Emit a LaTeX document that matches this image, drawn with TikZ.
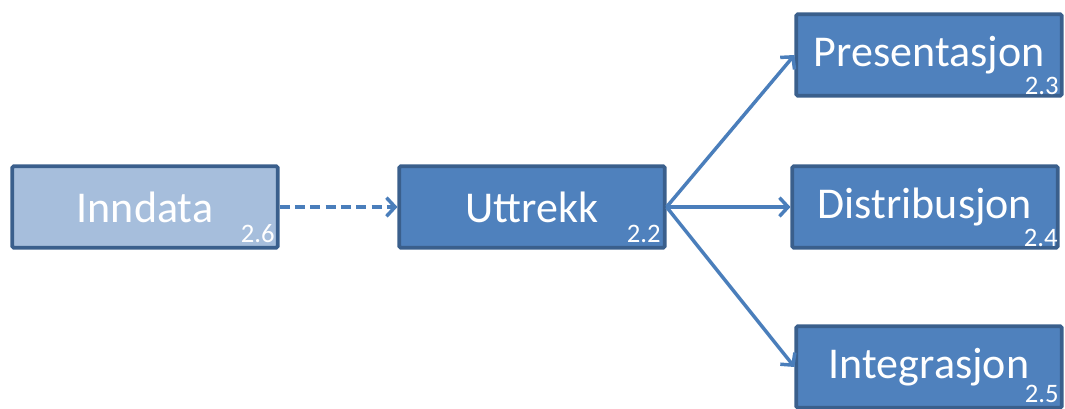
\documentclass[tikz,border=0pt]{standalone}
\usepackage{fontspec}
\setmainfont{Carlito}
\usepackage{xcolor}
\usepackage{tikz}
\usetikzlibrary{arrows.meta,positioning}

\definecolor{boxfill}{HTML}{4F81BD}
\definecolor{boxline}{HTML}{3A5F8C}
\definecolor{lightfill}{HTML}{A6BEDC}
\definecolor{arrowblue}{HTML}{4A7EBB}

\tikzset{
    processbox/.style={draw=boxline, fill=boxfill, line width=2.8pt, rounded corners=1pt,
        minimum width=199pt, minimum height=61pt, text=white, inner sep=0pt,
        font=\fontsize{33}{40}\selectfont},
    inputbox/.style={processbox, fill=lightfill},
    numlabel/.style={text=white, inner sep=0pt, anchor=base east,
        font=\fontsize{20}{24}\selectfont},
    flow/.style={draw=arrowblue, line width=2.6pt,
        -{Straight Barb[length=6.5pt, width=14pt, line width=2.6pt]}},
}

\begin{document}
\begin{tikzpicture}[x=0.75pt, y=-0.75pt]
    \useasboundingbox (0,0) rectangle (1065,408);

    % Boxes
    \node[inputbox]   (inndata)      at (145,207) {Inndata};
    \node[processbox] (uttrekk)      at (532,207) {Uttrekk};
    \node[processbox] (presentasjon) at (929,55)  {Presentasjon};
    \node[processbox] (distribusjon) at (925,207) {Distribusjon};
    \node[processbox] (integrasjon)  at (929,367) {Integrasjon};

    % Section numbers
    \node[numlabel] (n26) at (275,242) {2.6};
    \node[numlabel] (n22) at (661,242) {2.2};
    \node[numlabel] (n23) at (1059,94) {2.3};
    \node[numlabel] (n24) at (1058,246) {2.4};
    \node[numlabel] (n25) at (1059,402) {2.5};

    % Flow
    \draw[flow, dash pattern=on 7.5pt off 4pt] (inndata.east) -- (uttrekk.west);
    \draw[flow] (uttrekk.east) -- (presentasjon.west);
    \draw[flow] (uttrekk.east) -- (distribusjon.west);
    \draw[flow] (uttrekk.east) -- (integrasjon.west);
\end{tikzpicture}
\end{document}
